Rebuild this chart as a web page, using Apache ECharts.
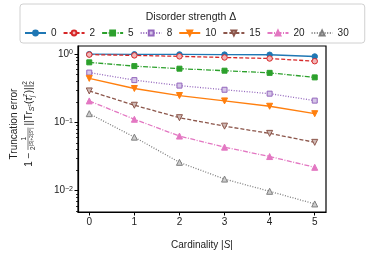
<!DOCTYPE html>
<html>
<head>
<meta charset="utf-8">
<script src="https://cdn.jsdelivr.net/npm/echarts@6/dist/echarts.min.js"></script>
<style>html,body{margin:0;padding:0;background:#fff}#c{width:373px;height:256px}</style>
</head>
<body>
<div id="c"></div>
<script>
const cardinality = [0, 1, 2, 3, 4, 5];
const seriesNames = ['0', '2', '5', '8', '10', '15', '20', '30'];
const d0  = [0.995, 0.99, 0.985, 0.98, 0.975, 0.92];
const d2  = [0.98, 0.955, 0.925, 0.89, 0.86, 0.785];
const d5  = [0.755, 0.665, 0.61, 0.57, 0.53, 0.455];
const d8  = [0.535, 0.415, 0.345, 0.30, 0.263, 0.208];
const d10 = [0.44, 0.313, 0.247, 0.206, 0.172, 0.134];
const d15 = [0.288, 0.178, 0.117, 0.088, 0.069, 0.051];
const d20 = [0.206, 0.111, 0.063, 0.0434, 0.0316, 0.022];
const d30 = [0.134, 0.0608, 0.026, 0.0148, 0.0098, 0.0064];
const seriesValues = [d0, d2, d5, d8, d10, d15, d20, d30];
const xTicks = [0, 1, 2, 3, 4, 5];
const yMajorTicks = [0.01, 0.1, 1];
const yMinorTicks = [0.005,0.006,0.007,0.008,0.009,0.02,0.03,0.04,0.05,0.06,0.07,0.08,0.09,0.2,0.3,0.4,0.5,0.6,0.7,0.8,0.9];

const FONT = '"Liberation Sans", Arial, sans-serif';
const colors = ['#1f77b4','#d62728','#2ca02c','#9467bd','#ff7f0e','#8c564b','#e377c2','#7f7f7f'];
const fills  = ['#1f77b4','#f2b6b7','#2ca02c','#d6c6e8','#ff7f0e','#cfbab5','#e377c2','#cdcdcd'];
const symbols = ['circle','circle','rect','rect','triangle','triangle','triangle','triangle'];
const rots = [0,0,0,0,180,180,0,0];
const sizes = [5.5,5.5,5,5,6,6,6,6];
const dashes = ['solid',[4,2],[5,1.5,1,1.5],[1,1.6],'solid',[4,2],[5,1.5,1,1.5],[1,1.6]];

const chart = echarts.init(document.getElementById('c'), null, {renderer:'canvas'});

const ctx = document.createElement('canvas').getContext('2d');
function tw(t, s, it){ ctx.font = (it?'italic ':'') + s + 'px ' + FONT; return ctx.measureText(t).width; }
function formulaElements(){
  const els = [];
  let x = 0;
  function put(t, s, dy, it, adv){
    els.push({type:'text', x: x, y: dy, style:{text:t, fontSize:s, fontStyle: it?'italic':'normal', fontFamily:FONT, fill:'#222', align:'left', verticalAlign:'middle'}});
    const w = tw(t, s, it);
    if (adv !== false) x += w;
    return w;
  }
  put('1 − ', 10, 0);
  const denParts = [['2',6.5,4.5,false],['|',4.8,2.6,false],['S',4.8,2.6,true],['|+2|',4.8,2.6,false],['S',4.8,2.6,true],['c',3.8,1.2,false],['|',4.8,2.6,false]];
  let denW = 0; denParts.forEach(p=>denW += tw(p[0],p[1],p[3]));
  const fx = x;
  const numW = tw('1', 6.5, false);
  els.push({type:'text', x: fx + (denW-numW)/2, y: -5, style:{text:'1', fontSize:6.5, fontFamily:FONT, fill:'#222', align:'left', verticalAlign:'middle'}});
  els.push({type:'line', shape:{x1:fx, y1:-1, x2:fx+denW, y2:-1}, style:{stroke:'#222', lineWidth:0.6}});
  denParts.forEach(p=>put(p[0],p[1],p[2],p[3]));
  x += 2;
  put('||Tr', 10, 0);
  put('S', 7, 3, true);
  put('c', 5, 1);
  put('(', 10, 0);
  put('τ', 10, 0, true);
  const w1 = put('z', 6.5, -4, true, false);
  put('j', 6.5, 3.5, true, false);
  x += w1 + 0.5;
  put(')||', 10, 0);
  put('2', 6.5, -4, false, false);
  put('2', 6.5, 3.5, false);
  const total = x;
  els.forEach(e=>{ if (e.type==='text') e.x -= total/2; else { e.shape.x1 -= total/2; e.shape.x2 -= total/2; } });
  return els;
}

const option = {
  animation: false,
  textStyle: {fontFamily: FONT},
  grid: {left: 78, right: 47, top: 46, bottom: 44, show: true, borderColor: '#000', borderWidth: 1.2, z: 3},
  legend: {
    left: 20, top: 4, padding: [24, 16, 5, 4],
    borderColor: '#d0d0d0', borderWidth: 1, borderRadius: 3, backgroundColor: 'rgba(255,255,255,0.8)',
    itemWidth: 21, itemHeight: 6, itemGap: 6,
    textStyle: {fontSize: 10, color: '#222', fontFamily: FONT},
    data: seriesNames
  },
  xAxis: {
    type: 'value', min: -0.25, max: 5.25,
    name: 'Cardinality |{i|S}|', nameLocation: 'middle', nameGap: 28,
    nameTextStyle: {fontSize: 10, color: '#222', fontFamily: FONT, rich: {i: {fontStyle: 'italic', fontSize: 10, fontFamily: FONT, color:'#222'}}},
    axisLine: {show: true, onZero: false, lineStyle: {color: '#000', width: 1.2}},
    axisTick: {show: true, customValues: xTicks, length: 3.5, lineStyle: {color: '#000', width: 1}},
    axisLabel: {customValues: xTicks, fontSize: 10, color: '#222', margin: 5, fontFamily: FONT},
    splitLine: {show: false}
  },
  yAxis: [{
    type: 'log', logBase: 10, min: 0.00488, max: 1.31, position: 'left',
    axisLine: {show: true, onZero: false, lineStyle: {color: '#000', width: 1.2}},
    axisTick: {show: true, customValues: yMajorTicks, length: 3.5, lineStyle: {color: '#000', width: 1}},
    axisLabel: {
      customValues: yMajorTicks, margin: 5, color: '#222', fontSize: 10, fontFamily: FONT,
      formatter: v => '10{sup|' + String(Math.round(Math.log10(v))).replace('-', '−') + '}',
      rich: {sup: {fontSize: 7, verticalAlign: 'top', lineHeight: 8, padding: [0,0,6,0], color:'#222', fontFamily: FONT}}
    },
    splitLine: {show: false}
  }, {
    type: 'log', logBase: 10, min: 0.00488, max: 1.31, position: 'left', offset: 0,
    axisLine: {show: false, onZero: false},
    axisTick: {show: true, customValues: yMinorTicks, length: 2, lineStyle: {color: '#000', width: 0.8}},
    axisLabel: {show: false},
    splitLine: {show: false}
  }],
  series: seriesNames.map((n, i) => ({
    name: n, type: 'line', yAxisIndex: 0,
    data: cardinality.map((x, j) => [x, seriesValues[i][j]]),
    symbol: symbols[i], symbolSize: sizes[i], symbolRotate: rots[i],
    lineStyle: {color: colors[i], width: 1.3, type: dashes[i]},
    itemStyle: {color: fills[i], borderColor: colors[i], borderWidth: 1},
    emphasis: {disabled: true}
  })),
  graphic: [
    {type: 'text', x: 191, y: 17, z: 100, style: {text: 'Disorder strength Δ', fontSize: 10.5, fontFamily: FONT, fill: '#222', align: 'center', verticalAlign: 'middle'}},
    {type: 'text', x: 14, y: 124, rotation: Math.PI/2, style: {text: 'Truncation error', fontSize: 10, fontFamily: FONT, fill: '#222', align: 'center', verticalAlign: 'middle'}},
    {type: 'group', x: 29, y: 124, rotation: Math.PI/2, children: formulaElements()}
  ]
};
chart.setOption(option);
</script>
</body>
</html>
